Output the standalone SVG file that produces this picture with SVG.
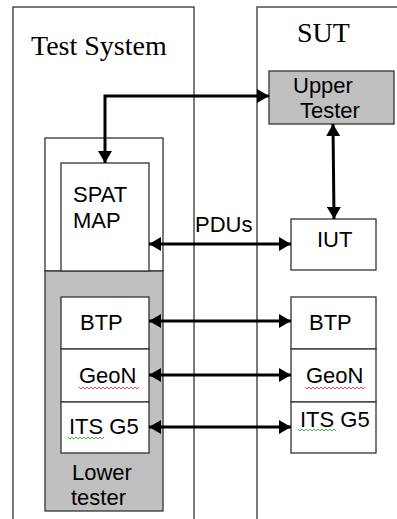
<svg xmlns="http://www.w3.org/2000/svg" width="397" height="519" viewBox="0 0 397 519">
<style>
.frame{fill:none;stroke:#333;stroke-width:1.3}
.box{fill:#fff;stroke:#333;stroke-width:1.3}
.gray{fill:#c0c0c0;stroke:#333;stroke-width:1.3}
.t{font-family:"Liberation Sans",Arial,sans-serif;font-size:22px;fill:#000}
.s{font-family:"Liberation Serif","Times New Roman",serif;font-size:28px;fill:#000}
.c{fill:none;stroke:#000;stroke-width:3;marker-start:url(#ah);marker-end:url(#ah)}
.red{fill:none;stroke:#e02020;stroke-width:0.8}
.green{fill:none;stroke:#20a020;stroke-width:0.8}
</style>
<defs>
<marker id="ah" markerUnits="userSpaceOnUse" markerWidth="13" markerHeight="14" refX="12" refY="7" orient="auto-start-reverse">
<path d="M0,0 L12,7 L0,14 z" fill="#000"/>
</marker>
</defs>
<rect x="0" y="0" width="397" height="519" fill="#fff"/>
<g id="test-system">
<rect class="frame" x="13" y="7" width="181" height="530"/>
<text class="s" x="31" y="55">Test System</text>
</g>
<g id="sut">
<rect class="frame" x="257" y="7" width="160" height="530"/>
<text class="s" x="297" y="42" font-size="27">SUT</text>
</g>
<g id="inner-box">
<rect class="box" x="45" y="138" width="118" height="133"/>
</g>
<g id="lower-tester">
<rect class="gray" x="45" y="271" width="118" height="240"/>
<text class="t" x="72" y="480">Lower</text>
<text class="t" x="71" y="505">tester</text>
</g>
<g id="spat-map">
<rect class="box" x="61" y="163" width="88" height="108"/>
<text class="t" x="73" y="202">SPAT</text>
<text class="t" x="73" y="228">MAP</text>
</g>
<g id="btp-left">
<rect class="box" x="61" y="297" width="88" height="52"/>
<text class="t" x="80" y="330">BTP</text>
</g>
<g id="geon-left">
<rect class="box" x="61" y="349" width="88" height="53"/>
<text class="t" x="79" y="383">GeoN</text>
<polyline class="red" points="79,387 81,389 83,387 85,389 87,387 89,389 91,387 93,389 95,387 97,389 99,387 101,389 103,387 105,389 107,387 109,389 111,387 113,389 115,387 117,389 119,387 121,389 123,387 125,389 127,387 129,389 131,387 133,389 135,387 137,389 139,387"/>
</g>
<g id="itsg5-left">
<rect class="box" x="61" y="402" width="88" height="51"/>
<text class="t" x="69" y="434">ITS G5</text>
<polyline class="green" points="68,437 70,439 72,437 74,439 76,437 78,439 80,437 82,439 84,437 86,439 88,437 90,439 92,437 94,439 96,437 98,439 100,437 102,439 104,437"/>
</g>
<g id="upper-tester">
<rect class="gray" x="269" y="71" width="125" height="53"/>
<text class="t" x="293" y="93">Upper</text>
<text class="t" x="300" y="118">Tester</text>
</g>
<g id="iut">
<rect class="box" x="291" y="219" width="85" height="51"/>
<text class="t" x="317" y="247">IUT</text>
</g>
<g id="btp-right">
<rect class="box" x="291" y="297" width="85" height="52"/>
<text class="t" x="309" y="330">BTP</text>
</g>
<g id="geon-right">
<rect class="box" x="291" y="349" width="85" height="53"/>
<text class="t" x="306" y="383">GeoN</text>
<polyline class="red" points="305,387 307,389 309,387 311,389 313,387 315,389 317,387 319,389 321,387 323,389 325,387 327,389 329,387 331,389 333,387 335,389 337,387 339,389 341,387 343,389 345,387 347,389 349,387 351,389 353,387 355,389 357,387 359,389 361,387 363,389 365,387"/>
</g>
<g id="itsg5-right">
<rect class="box" x="291" y="402" width="85" height="51"/>
<text class="t" x="300" y="427">ITS G5</text>
<polyline class="green" points="298,429 300,431 302,429 304,431 306,429 308,431 310,429 312,431 314,429 316,431 318,429 320,431 322,429 324,431 326,429 328,431 330,429 332,431 334,429 336,431"/>
</g>
<g id="connectors">
<path class="c" d="M105,163 L105,96 L269,96"/>
<path class="c" d="M333,124 L334,219"/>
<path class="c" d="M149,244 L291,244"/>
<text class="t" x="195" y="232">PDUs</text>
<path class="c" d="M149,321 L291,321"/>
<path class="c" d="M149,375 L291,375"/>
<path class="c" d="M149,427 L291,427"/>
</g>
</svg>
